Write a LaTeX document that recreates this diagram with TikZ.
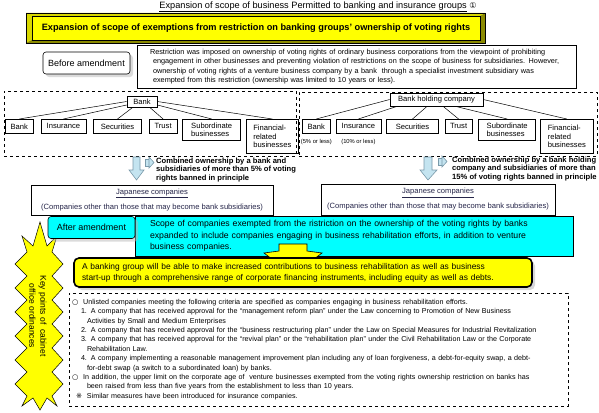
\documentclass[tikz,border=0pt]{standalone}
\usepackage{fontspec}
\setmainfont{Liberation Sans}
\newfontfamily\symfont{DejaVu Sans}
\usepackage{tikz}
\usetikzlibrary{positioning,shadows,calc}

\definecolor{bannerYellow}{HTML}{FFFF00}
\definecolor{bevelLight}{HTML}{D8D800}
\definecolor{bevelDark}{HTML}{8A8A00}
\definecolor{boxCyan}{HTML}{00FFFF}
\definecolor{arrowBlue}{HTML}{C4E4F0}
\definecolor{arrowEdge}{HTML}{7A9AAA}
\definecolor{jpText}{HTML}{26264A}

\newcommand{\fsz}[2]{\fontsize{#1}{#2}\selectfont}

\begin{document}
\begin{tikzpicture}[
    x=1pt, y=-1pt,
    every node/.style={inner sep=0pt},
    orgbox/.style={draw, line width=0.6pt, minimum height=14pt, align=left,
                   font=\fsz{7.6}{8.6}, anchor=north west},
    tagbox/.style={draw, rounded corners=3pt, line width=0.6pt, minimum width=87pt,
                   minimum height=22pt, font=\fsz{9}{11},
                   drop shadow={shadow xshift=3pt, shadow yshift=-3pt, fill=gray!55}},
    dashbox/.style={draw, dashed, line width=0.6pt},
    downarr/.style={fill=arrowBlue, draw=arrowEdge, line width=0.6pt},
    link/.style={line width=0.5pt},
    note/.style={font=\bfseries\fsz{7.6}{8.7}, align=left, anchor=north west},
    japan/.style={draw, line width=0.6pt, align=center, font=\fsz{7.6}{15}, text=jpText},
  ]
  \useasboundingbox (0,0) rectangle (599,412);
  \fill[white] (0,0) rectangle (599,412);

  % Title and banner
  \node (title) at (318,7) {\fsz{9.2}{10}\underline{Expansion of scope of business Permitted to banking and insurance groups}~{\symfont\fsz{8}{10}①}};
  \fill[bevelLight] (26,13) -- (485,13) -- (480,16) -- (32,16) -- (32,40) -- (26,43) -- cycle;
  \fill[bevelDark] (485,13) -- (485,43) -- (26,43) -- (32,40) -- (480,40) -- (480,16) -- cycle;
  \draw[line width=0.6pt] (26,13) rectangle (485,43);
  \node[draw, fill=bannerYellow, line width=0.5pt, minimum width=448pt, minimum height=24pt,
        font=\bfseries\fsz{9.2}{10}] (banner) at (256,28)
        {Expansion of scope of exemptions from restriction on banking groups' ownership of voting rights};

  % Before amendment
  \node[tagbox, fill=white] (before) at (86.5,63) {Before amendment};
  \node[draw, line width=0.6pt, minimum width=439pt, minimum height=43pt, text width=413pt,
        inner xsep=13pt, align=left, font=\fsz{7.3}{9.3}] (oldrule) at (356.5,66.5)
        {Restriction was imposed on ownership of voting rights of ordinary business corporations from the viewpoint of prohibiting\\
         \hspace*{3pt}engagement in other businesses and preventing violation of restrictions on the scope of business for subsidiaries. However,\\
         \hspace*{3pt}ownership of voting rights of a venture business company by a bank\ \ through a specialist investment subsidiary was\\
         \hspace*{3pt}exempted from this restriction (ownership was limited to 10 years or less).};

  % Bank group
  \node[dashbox, minimum width=292pt, minimum height=65pt] (leftGrp) at (150,123.5) {};
  \node[orgbox, minimum width=30pt, minimum height=11pt, anchor=center] (bankTop) at (142,101.5) {Bank};
  \node[orgbox, minimum width=28pt] (lBank) at (5,119) {Bank};
  \node[orgbox, minimum width=45pt, right=7pt of lBank.north east, anchor=north west] (lIns) {Insurance};
  \node[orgbox, minimum width=48pt, right=7pt of lIns.north east, anchor=north west] (lSec) {Securities};
  \node[orgbox, minimum width=28pt, right=7pt of lSec.north east, anchor=north west] (lTrust) {Trust};
  \node[orgbox, minimum width=58pt, minimum height=21pt, right=5pt of lTrust.north east, anchor=north west] (lSub) {Subordinate\\businesses};
  \node[orgbox, minimum width=52pt, minimum height=34pt, right=5pt of lSub.north east, anchor=north west] (lFin) {Financial-\\related\\businesses};

  \draw[link] (bankTop.west) -- (lBank.north);
  \draw[link] ($(bankTop.west)!0.6!(bankTop.south west)$) -- (lIns.north);
  \draw[link] ($(bankTop.south west)!0.2!(bankTop.south east)$) -- (lSec.north);
  \draw[link] ($(bankTop.south west)!0.75!(bankTop.south east)$) -- (lTrust.north);
  \draw[link] ($(bankTop.east)!0.6!(bankTop.south east)$) -- (lSub.north);
  \draw[link] (bankTop.east) -- (lFin.north);

  % Bank holding company group
  \node[dashbox, minimum width=298pt, minimum height=64pt] (rightGrp) at (448,124) {};
  \node[orgbox, minimum width=93pt, minimum height=13pt, anchor=center] (bhcTop) at (436.5,99.5) {Bank holding company};
  \node[orgbox, minimum width=28pt] (rBank) at (302,119) {Bank};
  \node[orgbox, minimum width=45pt, right=5pt of rBank.north east, anchor=north west] (rIns) {Insurance};
  \node[orgbox, minimum width=52pt, right=5pt of rIns.north east, anchor=north west] (rSec) {Securities};
  \node[orgbox, minimum width=27pt, right=6pt of rSec.north east, anchor=north west] (rTrust) {Trust};
  \node[orgbox, minimum width=57pt, minimum height=21pt, right=6pt of rTrust.north east, anchor=north west] (rSub) {Subordinate\\businesses};
  \node[orgbox, minimum width=53pt, minimum height=34pt, right=4pt of rSub.north east, anchor=north west] (rFin) {Financial-\\related\\businesses};
  \node[font=\fsz{5.8}{6}] (rBankPct) at ($(rBank.south)+(0,8)$) {(5\% or less)};
  \node[font=\fsz{5.8}{6}] (rInsPct) at ($(rIns.south)+(0,8)$) {(10\% or less)};

  \draw[link] (bhcTop.west) -- (rBank.north);
  \draw[link] ($(bhcTop.south west)!0.08!(bhcTop.south east)$) -- (rIns.north);
  \draw[link] ($(bhcTop.south west)!0.4!(bhcTop.south east)$) -- (rSec.north);
  \draw[link] ($(bhcTop.south west)!0.57!(bhcTop.south east)$) -- (rTrust.north);
  \draw[link] ($(bhcTop.south west)!0.7!(bhcTop.south east)$) -- (rSub.north);
  \draw[link] (bhcTop.east) -- (rFin.north);

  % Down arrows and notes
  \draw[downarr] (133,157) -- (140,157) -- (140,170) -- (144,170) -- (136.5,180) -- (129,170) -- (133,170) -- cycle;
  \draw[downarr] (145,159) rectangle (149,166);
  \draw[downarr] (149,157) -- (154,162.5) -- (149,168) -- cycle;
  \node[note] (lNote) at (156,157.5) {Combined ownership by a bank and\\subsidiaries of more than 5\% of voting\\rights banned in principle};

  \draw[downarr] (424,157) -- (432,157) -- (432,170) -- (437,170) -- (428,180) -- (420,170) -- (424,170) -- cycle;
  \draw[downarr] (438,158) rectangle (442,165);
  \draw[downarr] (442,156) -- (447,161.5) -- (442,167) -- cycle;
  \node[note] (rNote) at (452,156.5) {Combined ownership by a bank holding\\company and subsidiaries of more than\\15\% of voting rights banned in principle};

  % Japanese companies
  \node[japan, minimum width=242pt, minimum height=30pt] (lJapan) at (152,200)
        {\underline{Japanese companies}\\(Companies other than those that may become bank subsidiaries)};
  \node[japan, minimum width=234pt, minimum height=31pt] (rJapan) at (438,199.5)
        {\underline{Japanese companies}\\(Companies other than those that may become bank subsidiaries)};

  % Key points starburst
  \draw[fill=bannerYellow, line width=0.5pt] (40,222) -- (47,246) -- (57,236) -- (52,252)
    \foreach \y in {252,276,...,372} { -- (63,\y+12) -- (52,\y+24) }
    -- (57,406) -- (47,398) -- (40,410) -- (33,398) -- (22,406) -- (27,396)
    \foreach \y in {372,348,...,252} { -- (15,\y+12) -- (27,\y) }
    -- (22,236) -- (33,246) -- cycle;
  \node[rotate=-90, align=center, font=\fsz{8.5}{11}] (keyPoints) at (38,316) {Key points of\ \ cabinet\\office ordinances};

  % After amendment
  \node[draw, fill=boxCyan, line width=0.6pt, minimum width=438pt, minimum height=40pt, text width=412pt,
        inner xsep=13pt, align=left, font=\fsz{8.7}{11.5}] (newScope) at (354,236)
        {\hspace*{2pt}Scope of companies exempted from the ristriction on the ownership of the voting rights by banks\\
         \hspace*{2pt}expanded to include companies engaging in business rehabilitation efforts, in addition to venture\\
         \hspace*{2pt}business companies.};
  \node[tagbox, fill=boxCyan] (after) at (91.5,227.5) {After amendment};
  \draw[fill=bannerYellow, line width=0.6pt] (279,244) -- (307,244) -- (307,251) -- (322,253) -- (293,275)
        -- (264,253) -- (279,251) -- cycle;

  \node[draw, fill=bannerYellow, rounded corners=5pt, line width=1.6pt, minimum width=458pt, minimum height=29pt,
        text width=442pt, inner xsep=8pt, align=left, font=\fsz{8.4}{11}, 
        drop shadow={shadow xshift=3pt, shadow yshift=-3pt, fill=gray!60}] (result) at (303,272.5)
        {A banking group will be able to make increased contributions to business rehabilitation as well as business\\
         start-up through a comprehensive range of corporate financing instruments, including equity as well as debts.};

  % Details
  \node[dashbox, minimum width=499pt, minimum height=113pt, text width=493pt, inner xsep=3pt,
        align=left, font=\fsz{7.15}{9.4}] (details) at (318.5,349.5)
        {{\symfont ○}\hspace*{5pt}Unlisted companies meeting the following criteria are specified as companies engaging in business rehabilitation efforts.\\
         \hspace*{9pt}1.\hspace*{4pt}A company that has received approval for the “management reform plan” under the Law concerning to Promotion of New Business\\
         \hspace*{15pt}Activities by Small and Medium Enterprises\\
         \hspace*{9pt}2.\hspace*{4pt}A company that has received approval for the “business restructuring plan” under the Law on Special Measures for Industrial Revitalization\\
         \hspace*{9pt}3.\hspace*{4pt}A company that has received approval for the “revival plan” or the “rehabilitation plan” under the Civil Rehabilitation Law or the Corporate\\
         \hspace*{15pt}Rehabilitation Law.\\
         \hspace*{9pt}4.\hspace*{4pt}A company implementing a reasonable management improvement plan including any of loan forgiveness, a debt-for-equity swap, a debt-\\
         \hspace*{15pt}for-debt swap (a switch to a subordinated loan) by banks.\\
         {\symfont ○}\hspace*{5pt}In addition, the upper limit on the corporate age of\ \ venture businesses exempted from the voting rights ownership restriction on banks has\\
         \hspace*{15pt}been raised from less than five years from the establishment to less than 10 years.\\
         \hspace*{4pt}{\symfont ※}\hspace*{5pt}Similar measures have been introduced for insurance companies.};

\end{tikzpicture}
\end{document}
